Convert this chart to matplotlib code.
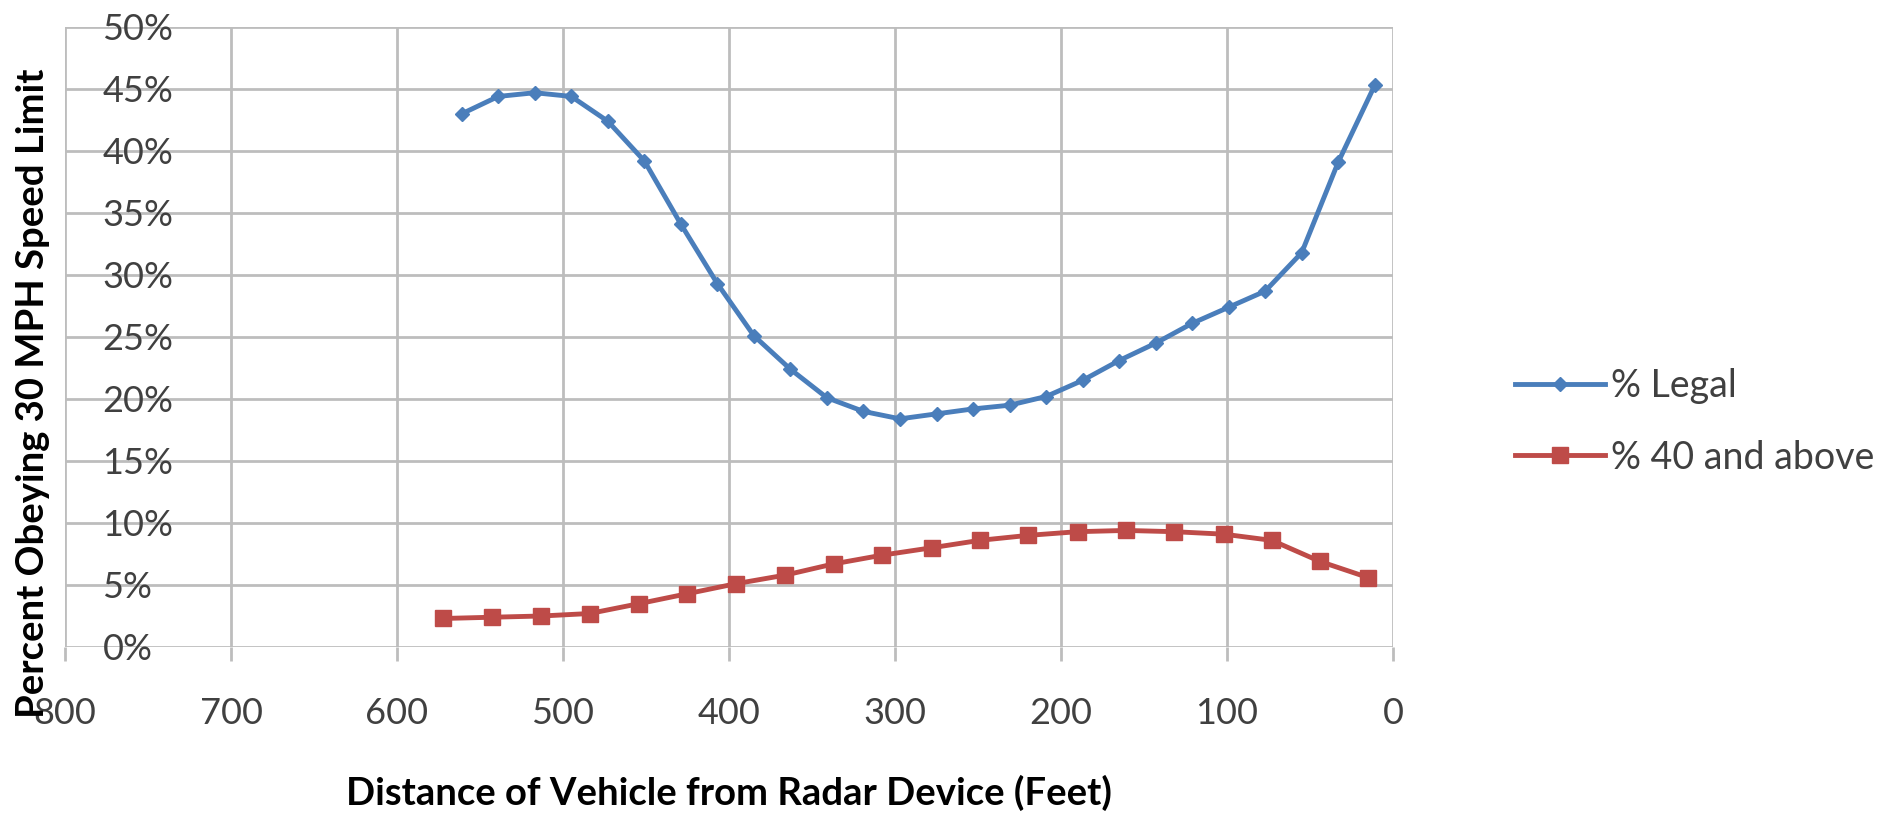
import matplotlib
matplotlib.use("Agg")
import matplotlib.pyplot as plt
from matplotlib.ticker import PercentFormatter

# distance from radar (feet) and percent of vehicles
LEGAL_FEET = [561, 539, 517, 495, 473, 451, 429, 407, 385, 363, 341, 319, 297,
              275, 253, 231, 209, 187, 165, 143, 121, 99, 77, 55, 33, 11]
LEGAL_PCT = [43.0, 44.4, 44.7, 44.4, 42.4, 39.2, 34.1, 29.3, 25.1, 22.4, 20.1, 19.0, 18.4,
             18.8, 19.2, 19.5, 20.2, 21.5, 23.1, 24.5, 26.1, 27.4, 28.7, 31.8, 39.1, 45.3]

FAST_FEET = [572, 543, 513, 484, 454, 425, 396, 366, 337, 308,
             278, 249, 220, 190, 161, 132, 102, 73, 44, 15]
FAST_PCT = [2.3, 2.4, 2.5, 2.7, 3.5, 4.3, 5.1, 5.8, 6.7, 7.4,
            8.0, 8.6, 9.0, 9.3, 9.4, 9.3, 9.1, 8.6, 6.9, 5.6]

SERIES_LABELS = ["% Legal", "% 40 and above"]
X_TICKS = [800, 700, 600, 500, 400, 300, 200, 100, 0]
Y_TICKS = [0, 5, 10, 15, 20, 25, 30, 35, 40, 45, 50]

BLUE = "#4a7ebb"
RED = "#be4b48"
GRID = "#bdbdbd"
TEXT_GRAY = "#404040"
FONT_SIZE = 26
TITLE_SIZE = 27.5

plt.rcParams["font.family"] = ["Lato", "DejaVu Sans"]

fig = plt.figure(figsize=(18.92, 8.14), dpi=100)
ax = fig.add_axes([65 / 1892, 1 - 647 / 814, (1393 - 65) / 1892, (647 - 27) / 814])

ax.plot(LEGAL_FEET, LEGAL_PCT, color=BLUE, lw=3.5, marker="D", markersize=7,
        label=SERIES_LABELS[0], zorder=3)
ax.plot(FAST_FEET, FAST_PCT, color=RED, lw=3.5, marker="s", markersize=11,
        label=SERIES_LABELS[1], zorder=3)

ax.set_xlim(800, 0)
ax.set_ylim(0, 50)
ax.set_xticks(X_TICKS)
ax.set_yticks(Y_TICKS)
ax.yaxis.set_major_formatter(PercentFormatter(xmax=100, decimals=0))

ax.grid(True, color=GRID, lw=2.0)
ax.set_axisbelow(True)
for side in ax.spines.values():
    side.set_visible(False)

ax.tick_params(axis="x", direction="out", length=10, width=2.0, color=GRID,
               pad=26, labelsize=FONT_SIZE, labelcolor=TEXT_GRAY)
ax.tick_params(axis="y", length=0, pad=-27, labelsize=FONT_SIZE, labelcolor=TEXT_GRAY)
for lab in ax.get_yticklabels():
    lab.set_horizontalalignment("left")

ax.set_xlabel("Distance of Vehicle from Radar Device (Feet)", fontsize=TITLE_SIZE,
              fontweight="bold")
ax.xaxis.set_label_coords(0.5, -(793 - 647) / 620)
ax.xaxis.label.set_verticalalignment("center")
ax.set_ylabel("Percent Obeying 30 MPH Speed Limit", fontsize=TITLE_SIZE,
              fontweight="bold", va="center")
ax.yaxis.set_label_coords(-(65 - 33) / 1328, (647 - 393) / 620)

leg = fig.legend(loc="upper left", bbox_to_anchor=(1515 / 1892, 1 - 368 / 814),
                 frameon=False, fontsize=27, handlelength=2.4,
                 handletextpad=0.15, labelspacing=0.95, borderpad=0,
                 borderaxespad=0)
for t in leg.get_texts():
    t.set_color(TEXT_GRAY)

fig.savefig("out.png", dpi=100)
